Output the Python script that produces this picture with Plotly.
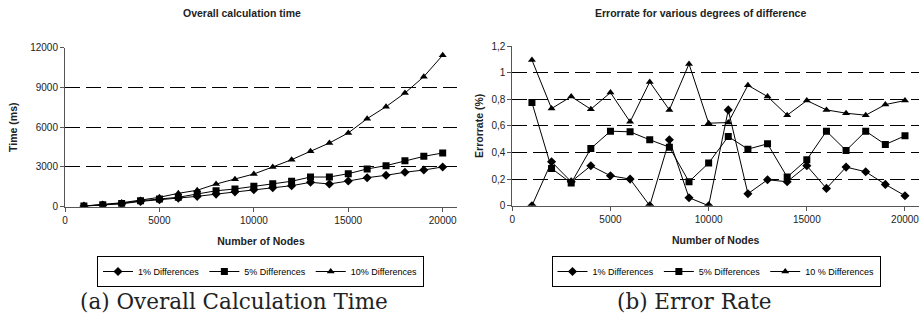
import plotly.graph_objects as go

W, H = 919, 320

nodes = [1000, 2000, 3000, 4000, 5000, 6000, 7000, 8000, 9000, 10000,
         11000, 12000, 13000, 14000, 15000, 16000, 17000, 18000, 19000, 20000]

time_1 = [40, 120, 220, 400, 520, 650, 780, 950, 1120, 1285,
          1435, 1585, 1840, 1715, 1940, 2190, 2370, 2600, 2770, 3000]
time_5 = [50, 150, 250, 450, 580, 710, 960, 1200, 1340, 1540,
          1740, 1920, 2240, 2240, 2490, 2850, 3100, 3475, 3800, 4055]
time_10 = [50, 180, 300, 500, 710, 1010, 1240, 1710, 2070, 2470,
           3000, 3550, 4180, 4810, 5565, 6645, 7550, 8580, 9815, 11430]

err_1 = [0.0, 0.33, 0.18, 0.30, 0.225, 0.20, 0.0, 0.495, 0.06, 0.0,
         0.72, 0.09, 0.195, 0.18, 0.30, 0.13, 0.29, 0.255, 0.16, 0.075]
err_5 = [0.775, 0.28, 0.17, 0.43, 0.56, 0.555, 0.495, 0.44, 0.18, 0.32,
         0.52, 0.425, 0.465, 0.215, 0.345, 0.56, 0.415, 0.56, 0.46, 0.525]
err_10 = [1.095, 0.73, 0.82, 0.725, 0.85, 0.63, 0.93, 0.72, 1.065, 0.62,
          0.625, 0.905, 0.82, 0.68, 0.79, 0.72, 0.695, 0.68, 0.76, 0.79]

left_names = ["1% Differences", "5% Differences", "10% Differences"]
right_names = ["1% Differences", "5% Differences", "10 % Differences"]
symbols = ["diamond", "square", "triangle-up"]

time_ticks = [0, 3000, 6000, 9000, 12000]
time_ticktext = ["0", "3000", "6000", "9000", "12000"]
err_ticks = [0, 0.2, 0.4, 0.6, 0.8, 1.0, 1.2]
err_ticktext = ["0", "0,2", "0,4", "0,6", "0,8", "1", "1,2"]
x_ticks = [0, 5000, 10000, 15000, 20000]

FONT = "Liberation Sans, Arial, sans-serif"

fig = go.Figure()
for ys, name, sym in zip([time_1, time_5, time_10], left_names, symbols):
    fig.add_trace(go.Scatter(
        x=nodes, y=ys, name=name, mode="lines+markers",
        line=dict(color="black", width=1),
        marker=dict(symbol=sym, size=7, color="black"),
        xaxis="x", yaxis="y", legend="legend"))
for ys, name, sym in zip([err_1, err_5, err_10], right_names, symbols):
    fig.add_trace(go.Scatter(
        x=nodes, y=ys, name=name, mode="lines+markers",
        line=dict(color="black", width=1),
        marker=dict(symbol=sym, size=7, color="black"),
        xaxis="x2", yaxis="y2", legend="legend2"))

def px(x):
    return x / W

def py(y):
    return (H - y) / H

common_x = dict(showgrid=False, zeroline=False, showline=True, linecolor="#555",
                linewidth=1, ticks="outside", ticklen=4, tickcolor="#555",
                automargin=False, ticklabeloverflow="allow",
                tickvals=x_ticks, ticktext=[str(v) for v in x_ticks],
                tickfont=dict(family=FONT, size=10, color="#222"),
                title=dict(text="<b>Number of Nodes</b>", standoff=12,
                           font=dict(family=FONT, size=10.5, color="#222")))
common_y = dict(showgrid=True, gridcolor="black", gridwidth=1, griddash="15px,6px",
                zeroline=False, showline=True, linecolor="#555", linewidth=1,
                ticks="outside", ticklen=4, tickcolor="#555", automargin=False,
                tickfont=dict(family=FONT, size=10, color="#222"))

leg_common = dict(orientation="h", xanchor="center", yanchor="top",
                  bordercolor="black", borderwidth=1, bgcolor="white",
                  font=dict(family=FONT, size=9, color="black"),
                  itemwidth=30, tracegroupgap=0)

fig.update_layout(
    width=W, height=H,
    margin=dict(l=0, r=0, t=0, b=0, pad=0, autoexpand=False),
    paper_bgcolor="white", plot_bgcolor="white",
    showlegend=True,
    xaxis=dict(domain=[px(65), px(457)], range=[0, 20757], anchor="y", **common_x),
    yaxis=dict(domain=[py(206.7), py(47.7)], range=[0, 12000], anchor="x",
               tickvals=time_ticks, ticktext=time_ticktext,
               title=dict(text="<b>Time (ms)</b>", standoff=10,
                          font=dict(family=FONT, size=10.5, color="#222")),
               **common_y),
    xaxis2=dict(domain=[px(512.3), 1.0], range=[0, 20714], anchor="y2", **common_x),
    yaxis2=dict(domain=[py(205.7), py(46)], range=[0, 1.2], anchor="x2",
                tickvals=err_ticks, ticktext=err_ticktext,
                title=dict(text="<b>Errorrate (%)</b>", standoff=5,
                           font=dict(family=FONT, size=10.5, color="#222")),
                **common_y),
    legend=dict(x=px(260.5), y=py(256), **leg_common),
    legend2=dict(x=px(716), y=py(256), **leg_common),
    annotations=[
        dict(text="<b>Overall calculation time</b>", x=px(242), y=py(13),
             xref="paper", yref="paper", showarrow=False,
             xanchor="center", yanchor="middle",
             font=dict(family=FONT, size=10.5, color="#222")),
        dict(text="<b>Errorrate for various degrees of difference</b>", x=px(700), y=py(13),
             xref="paper", yref="paper", showarrow=False,
             xanchor="center", yanchor="middle",
             font=dict(family=FONT, size=10.5, color="#222")),
        dict(text="(a) Overall Calculation Time", x=px(234), y=py(301),
             xref="paper", yref="paper", showarrow=False,
             xanchor="center", yanchor="middle",
             font=dict(family="DejaVu Serif, serif", size=21.5, color="#222")),
        dict(text="(b) Error Rate", x=px(694), y=py(301),
             xref="paper", yref="paper", showarrow=False,
             xanchor="center", yanchor="middle",
             font=dict(family="DejaVu Serif, serif", size=21.5, color="#222")),
    ],
)

fig.write_html("out.html", config={"displayModeBar": False},
               post_script="document.body.style.margin='0';document.body.style.overflow='hidden';")
